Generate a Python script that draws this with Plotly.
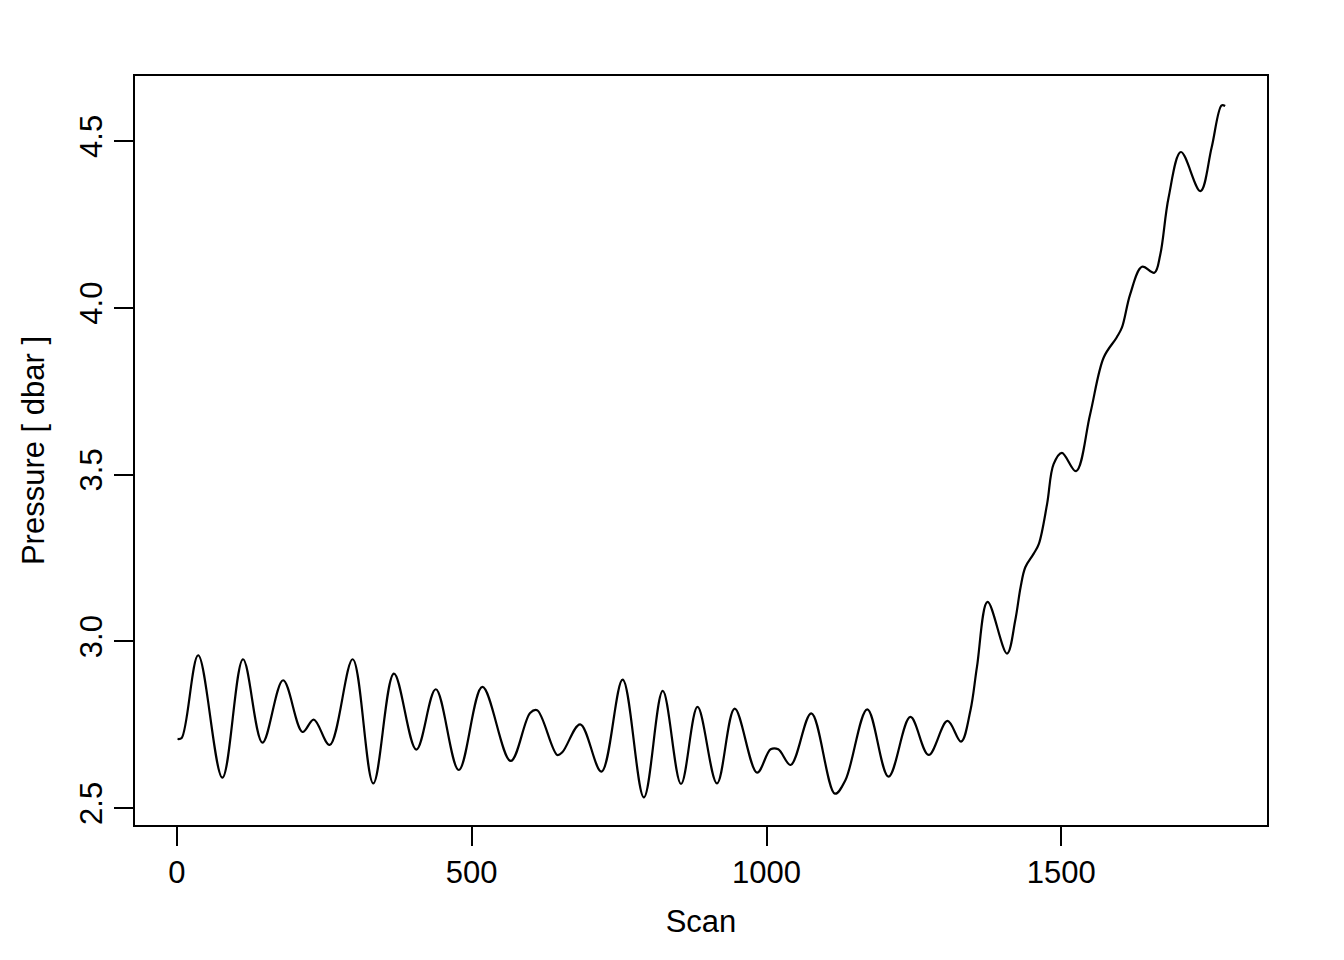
import plotly.graph_objects as go

scan = [1, 8, 36, 77, 112, 145, 180, 213, 232, 259, 298, 333, 368, 406, 439, 478,
        518, 566, 599, 611, 645, 654, 684, 720, 756, 792, 824, 855, 883, 916, 946,
        984, 1007, 1020, 1041, 1076, 1116, 1134, 1171, 1207, 1244, 1275, 1307, 1330,
        1346, 1357, 1375, 1408, 1422, 1431, 1439, 1453, 1462, 1476, 1487, 1501,
        1525, 1549, 1572, 1594, 1603, 1617, 1637, 1658, 1668, 1682, 1703, 1736,
        1755, 1772, 1778]
pressure = [2.707, 2.710, 2.958, 2.591, 2.946, 2.696, 2.883, 2.728, 2.765, 2.689,
            2.946, 2.574, 2.903, 2.675, 2.856, 2.614, 2.863, 2.641, 2.785, 2.793,
            2.659, 2.668, 2.751, 2.609, 2.885, 2.532, 2.851, 2.572, 2.803, 2.574,
            2.798, 2.606, 2.676, 2.676, 2.629, 2.784, 2.543, 2.584, 2.796, 2.594,
            2.773, 2.659, 2.761, 2.699, 2.793, 2.923, 3.118, 2.963, 3.063,
            3.162, 3.222, 3.262, 3.292, 3.412, 3.531, 3.565, 3.510, 3.681,
            3.851, 3.911, 3.941, 4.041, 4.123, 4.105, 4.160, 4.330, 4.467, 4.350,
            4.480, 4.607, 4.605]

x_ticks = [0, 500, 1000, 1500]
y_ticks = [2.5, 3.0, 3.5, 4.0, 4.5]
y_tick_text = ["2.5", "3.0", "3.5", "4.0", "4.5"]

font = "Liberation Sans, Arial, Helvetica, sans-serif"

fig = go.Figure()
fig.add_trace(go.Scatter(x=scan, y=pressure, mode="lines",
                         line=dict(color="black", width=2.2, shape="spline", smoothing=1.0),
                         showlegend=False, hoverinfo="skip"))

axis_common = dict(showline=True, mirror=True, linecolor="black", linewidth=2,
                   showgrid=False, zeroline=False, ticks="outside", ticklen=19,
                   tickwidth=2, tickcolor="black",
                   tickfont=dict(family=font, size=31, color="black"))

fig.update_layout(
    width=1336, height=952,
    margin=dict(l=127, r=77, t=68, b=135),
    paper_bgcolor="white", plot_bgcolor="white",
    xaxis=dict(range=[-71.2, 1849], tickvals=x_ticks,
               title=dict(text="Scan", font=dict(family=font, size=31, color="black"), standoff=21),
               **axis_common),
    yaxis=dict(range=[2.449, 4.695], tickvals=y_ticks, ticktext=y_tick_text, tickangle=-90,
               title=dict(text="Pressure [ dbar ]", font=dict(family=font, size=31, color="black"), standoff=20),
               **axis_common),
)

fig.write_html("out.html")
